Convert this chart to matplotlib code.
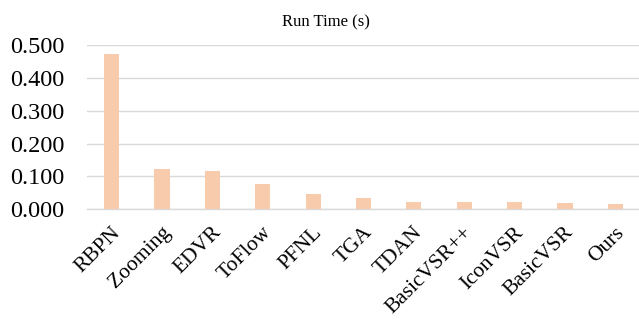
import matplotlib

matplotlib.use("Agg")
import matplotlib.pyplot as plt
import matplotlib.transforms as mtransforms
import numpy as np

# Values
methods = ["RBPN", "Zooming", "EDVR", "ToFlow", "PFNL", "TGA", "TDAN",
           "BasicVSR++", "IconVSR", "BasicVSR", "Ours"]
run_time = [0.474, 0.123, 0.118, 0.077, 0.047, 0.034, 0.023, 0.023, 0.022, 0.019, 0.015]
y_ticks = [0.0, 0.1, 0.2, 0.3, 0.4, 0.5]

BAR_COLOR = "#F8CBAD"
GRID_COLOR = "#D9D9D9"

plt.rcParams["font.family"] = ["Liberation Serif", "DejaVu Serif"]

W, H = 639, 320
fig = plt.figure(figsize=(W / 100, H / 100), dpi=100)
ax = fig.add_axes([86.5 / W, 1 - 209.3 / H, (640.5 - 86.5) / W, (209.3 - 45) / H])

x = np.arange(len(methods))
ax.bar(x, run_time, width=0.30, color=BAR_COLOR, zorder=3)

ax.set_xlim(-0.5, len(methods) - 0.5)
ax.set_ylim(0, 0.5)
ax.set_yticks(y_ticks)
ax.set_yticklabels([f"{v:.3f}" for v in y_ticks], fontsize=17.5)
ax.yaxis.grid(True, color=GRID_COLOR, linewidth=1.0, zorder=0)
ax.set_xticks(x)
ax.set_xticklabels(methods, rotation=45, ha="right", va="top",
                   rotation_mode="anchor", fontsize=15.5)
ax.tick_params(axis="both", length=0)
ax.tick_params(axis="y", pad=16)
ax.tick_params(axis="x", pad=10)
shift = mtransforms.ScaledTranslation(-1 / 100, 0, fig.dpi_scale_trans)
for lbl in ax.get_xticklabels():
    lbl.set_transform(lbl.get_transform() + shift)
for side in ["top", "right", "left"]:
    ax.spines[side].set_visible(False)
ax.spines["bottom"].set_color(GRID_COLOR)
ax.spines["bottom"].set_linewidth(1.0)

fig.text(326 / W, 1 - 22 / H, "Run Time (s)", ha="center", va="center", fontsize=12)

fig.savefig("out.png", dpi=100)
